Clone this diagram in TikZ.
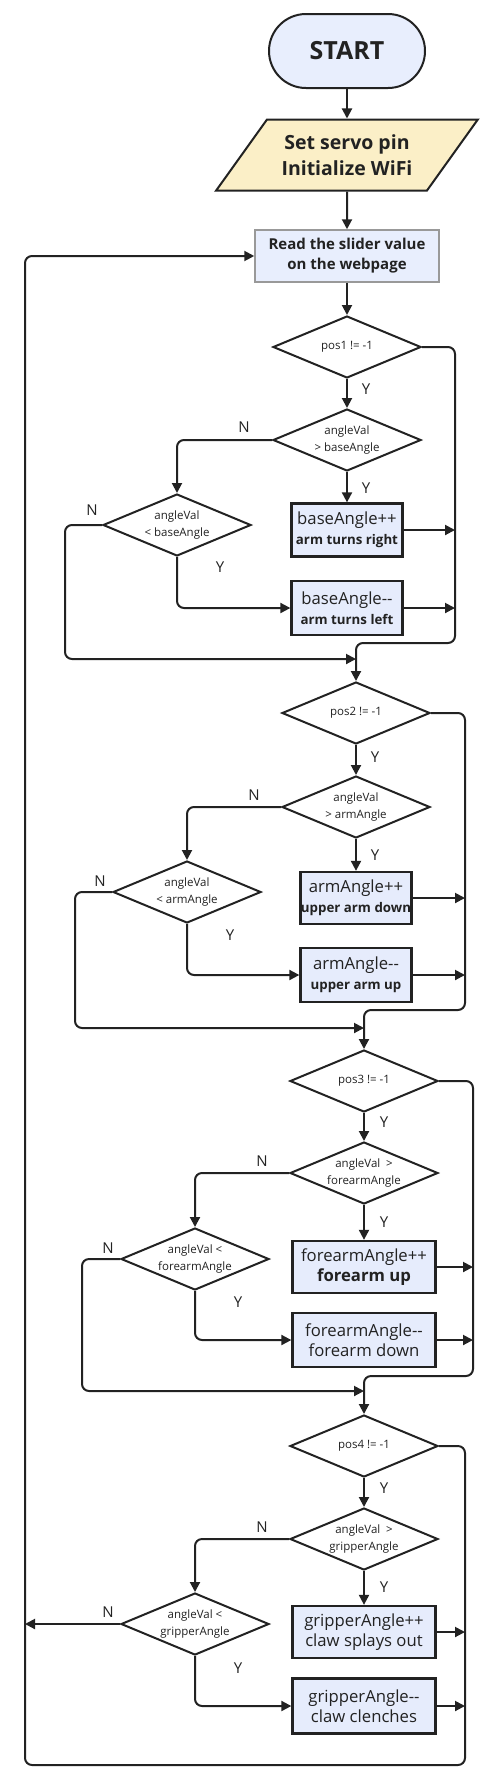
\documentclass[tikz,border=0pt]{standalone}
\usepackage{fontspec}
\setmainfont{Open Sans}[Ligatures=TeXOff]
\usetikzlibrary{shapes.geometric,arrows.meta}

\newlength{\du}
\setlength{\du}{1pt}

\definecolor{dialinecolor}{rgb}{0.133333, 0.133333, 0.133333}
\definecolor{startfill}{rgb}{0.909804, 0.933333, 0.992157}
\definecolor{iofill}{rgb}{0.984314, 0.937255, 0.780392}
\definecolor{stepfill}{rgb}{0.901961, 0.925490, 0.988235}
\definecolor{readline}{rgb}{0.600000, 0.600000, 0.600000}

\newcommand{\subline}[1]{{\bfseries\fontsize{13.3}{18}\selectfont #1}}

\tikzset{
  flowline/.style={draw=dialinecolor, line width=2\du, rounded corners=7\du,
    -{Triangle[length=10pt,width=10pt]}},
  startnode/.style={rectangle, rounded corners=37\du, draw=dialinecolor, line width=2\du,
    fill=startfill, minimum width=156\du, minimum height=74\du,
    font=\bfseries\fontsize{25}{30}\selectfont},
  ionode/.style={trapezium, trapezium left angle=47.5, trapezium right angle=132.5,
    trapezium stretches=true, draw=dialinecolor, line width=2\du, fill=iofill,
    minimum width=262\du, minimum height=71\du, align=center,
    font=\bfseries\fontsize{19.5}{26}\selectfont},
  readnode/.style={rectangle, draw=readline, line width=1.5\du, fill=startfill,
    minimum width=184\du, minimum height=52\du, align=center,
    font=\bfseries\fontsize{15}{20}\selectfont},
  condnode/.style={diamond, aspect=2.4, inner sep=0pt, draw=dialinecolor,
    line width=2\du, fill=white, minimum width=148\du, minimum height=62\du,
    align=center, font=\fontsize{11.5}{17}\selectfont},
  stepnode/.style={rectangle, inner sep=0pt, draw=dialinecolor, line width=2.3\du,
    fill=stepfill, minimum width=111\du, minimum height=53\du, align=center,
    font=\fontsize{16.7}{20}\selectfont},
  widestep/.style={stepnode, minimum width=143\du},
  yn/.style={inner sep=0pt, font=\fontsize{15}{15}\selectfont},
}

\begin{document}
\begin{tikzpicture}[every node/.append style={text=dialinecolor}]
\pgftransformxscale{1.000000}
\pgftransformyscale{-1.000000}
\useasboundingbox (0\du,0\du) rectangle (500\du,1792\du);

\node[startnode] (start) at (347\du,51\du) {START};
\node[ionode] (init) at (347\du,155\du) {Set servo pin\\Initialize WiFi};
\node[readnode] (read) at (347\du,256\du) {Read the slider value\\on the webpage};

% pos1 -- base
\node[condnode] (pos1) at (347\du,347\du) {pos1 != -1};
\node[condnode] (base_gt) at (347\du,440\du) {angleVal\\> baseAngle};
\node[condnode] (base_lt) at (177\du,525\du) {angleVal\\< baseAngle};
\node[stepnode] (base_inc) at (347\du,530\du) {baseAngle++\\\subline{arm turns right}};
\node[stepnode, minimum height=54\du] (base_dec) at (347\du,608\du) {baseAngle--\\\subline{arm turns left}};
\coordinate (r1) at (455\du,643\du);
\coordinate (l1) at (65\du,659\du);
\coordinate (j1) at (356\du,659\du);

% pos2 -- arm
\node[condnode] (pos2) at (356\du,713\du) {pos2 != -1};
\node[condnode] (arm_gt) at (356\du,807\du) {angleVal\\> armAngle};
\node[condnode] (arm_lt) at (187\du,892\du) {angleVal\\< armAngle};
\node[stepnode, minimum height=52\du] (arm_inc) at (356\du,898\du) {armAngle++\\\subline{upper arm down}};
\node[stepnode, minimum height=54\du] (arm_dec) at (356\du,975\du) {armAngle--\\\subline{upper arm up}};
\coordinate (r2) at (465\du,1010\du);
\coordinate (l2) at (75\du,1028\du);
\coordinate (j2) at (364\du,1028\du);

% pos3 -- forearm
\node[condnode] (pos3) at (364\du,1081\du) {pos3 != -1};
\node[condnode] (fore_gt) at (364\du,1173\du) {angleVal\enspace>\\forearmAngle};
\node[condnode] (fore_lt) at (195\du,1259\du) {angleVal <\\forearmAngle};
\node[widestep, minimum height=52\du] (fore_inc) at (364\du,1267\du) {forearmAngle++\\\textbf{forearm up}};
\node[widestep, minimum height=54\du] (fore_dec) at (364\du,1340\du) {forearmAngle--\\forearm down};
\coordinate (r3) at (473\du,1376\du);
\coordinate (l3) at (82\du,1391\du);
\coordinate (j3) at (364\du,1391\du);

% pos4 -- gripper
\node[condnode] (pos4) at (364\du,1446\du) {pos4 != -1};
\node[condnode] (grip_gt) at (364\du,1539\du) {angleVal\enspace>\\gripperAngle};
\node[condnode] (grip_lt) at (195\du,1624\du) {angleVal <\\gripperAngle};
\node[widestep, minimum height=52\du] (grip_inc) at (364\du,1632\du) {gripperAngle++\\claw splays out};
\node[widestep, minimum height=55\du] (grip_dec) at (364\du,1706\du) {gripperAngle--\\claw clenches};
\coordinate (r4) at (465\du,1765\du);
\coordinate (l0) at (25\du,1765\du);

% setfont left to latex
\node[yn] (y1) at (366\du,389\du) {Y};
\node[yn] (n1) at (244\du,427\du) {N};
\node[yn] (y2) at (366\du,488\du) {Y};
\node[yn] (n2) at (92\du,510\du) {N};
\node[yn] (y3) at (220\du,567\du) {Y};
\node[yn] (y4) at (375\du,757\du) {Y};
\node[yn] (n4) at (254\du,795\du) {N};
\node[yn] (y5) at (375\du,855\du) {Y};
\node[yn] (n5) at (100\du,881\du) {N};
\node[yn] (y6) at (230\du,935\du) {Y};
\node[yn] (y7) at (384\du,1122\du) {Y};
\node[yn] (n7) at (262\du,1161\du) {N};
\node[yn] (y8) at (384\du,1222\du) {Y};
\node[yn] (n8) at (108\du,1248\du) {N};
\node[yn] (y9) at (238\du,1302\du) {Y};
\node[yn] (y10) at (384\du,1488\du) {Y};
\node[yn] (n10) at (262\du,1527\du) {N};
\node[yn] (y11) at (384\du,1587\du) {Y};
\node[yn] (n11) at (108\du,1612\du) {N};
\node[yn] (y12) at (238\du,1668\du) {Y};

\draw[flowline] (start) -- (init);
\draw[flowline] (init) -- (read);
\draw[flowline] (read) -- (pos1);

\draw[flowline] (pos1) -- (base_gt);
\draw[flowline] (base_gt) -- (base_inc);
\draw[flowline] (base_gt.west) -| (base_lt.north);
\draw[flowline] (base_lt.south) |- (base_dec.west);
\draw[flowline] (base_lt.west) -| (l1) -- (j1);
\draw[flowline] (base_inc.east) -- (base_inc.east -| r1);
\draw[flowline] (base_dec.east) -- (base_dec.east -| r1);
\draw[flowline] (pos1.east) -| (r1) -| (pos2.north);

\draw[flowline] (pos2) -- (arm_gt);
\draw[flowline] (arm_gt) -- (arm_inc);
\draw[flowline] (arm_gt.west) -| (arm_lt.north);
\draw[flowline] (arm_lt.south) |- (arm_dec.west);
\draw[flowline] (arm_lt.west) -| (l2) -- (j2);
\draw[flowline] (arm_inc.east) -- (arm_inc.east -| r2);
\draw[flowline] (arm_dec.east) -- (arm_dec.east -| r2);
\draw[flowline] (pos2.east) -| (r2) -| (pos3.north);

\draw[flowline] (pos3) -- (fore_gt);
\draw[flowline] (fore_gt) -- (fore_inc);
\draw[flowline] (fore_gt.west) -| (fore_lt.north);
\draw[flowline] (fore_lt.south) |- (fore_dec.west);
\draw[flowline] (fore_lt.west) -| (l3) -- (j3);
\draw[flowline] (fore_inc.east) -- (fore_inc.east -| r3);
\draw[flowline] (fore_dec.east) -- (fore_dec.east -| r3);
\draw[flowline] (pos3.east) -| (r3) -| (pos4.north);

\draw[flowline] (pos4) -- (grip_gt);
\draw[flowline] (grip_gt) -- (grip_inc);
\draw[flowline] (grip_gt.west) -| (grip_lt.north);
\draw[flowline] (grip_lt.south) |- (grip_dec.west);
\draw[flowline] (grip_lt.west) -- (grip_lt.west -| l0);
\draw[flowline] (grip_inc.east) -- (grip_inc.east -| r4);
\draw[flowline] (grip_dec.east) -- (grip_dec.east -| r4);
% back to the slider
\draw[flowline] (pos4.east) -| (r4) -- (l0) |- (read.west);
\end{tikzpicture}
\end{document}
